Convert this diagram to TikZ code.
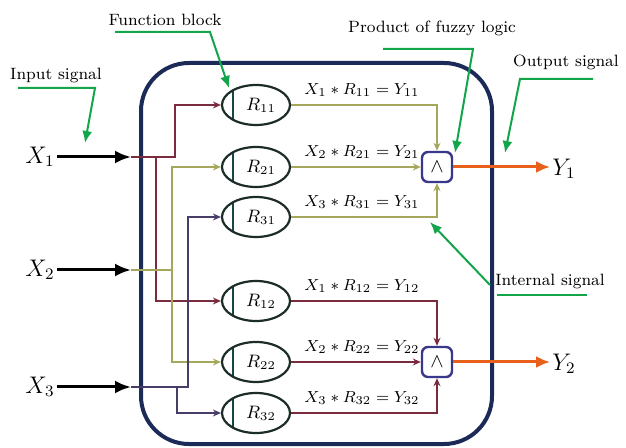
\documentclass[tikz,border=0pt]{standalone}
\usetikzlibrary{arrows.meta,shapes.geometric}

\definecolor{frameblue}{RGB}{28,42,88}
\definecolor{maroonln}{RGB}{122,44,62}
\definecolor{oliveln}{RGB}{165,168,92}
\definecolor{purpleln}{RGB}{72,60,104}
\definecolor{blockln}{RGB}{28,44,38}
\definecolor{barln}{RGB}{24,70,70}
\definecolor{gateln}{RGB}{58,56,138}
\definecolor{outorange}{RGB}{232,96,26}
\definecolor{notegreen}{RGB}{18,165,74}

\begin{document}
\begin{tikzpicture}[x=0.5pt, y=-0.5pt, >=Latex,
  rblock/.style={ellipse, draw=blockln, line width=1.1pt, minimum width=34pt, minimum height=20pt,
    inner sep=0pt, font=\fontsize{9}{11}\selectfont,
    path picture={\draw[barln, line width=0.9pt]
      ([xshift=5.5pt]path picture bounding box.south west) --
      ([xshift=5.5pt]path picture bounding box.north west);}},
  prod/.style={inner sep=0pt, font=\fontsize{8}{10}\selectfont},
  andgate/.style={draw=gateln, line width=1.2pt, rounded corners=3pt, minimum size=15pt,
    inner sep=0pt, fill=white},
  sig/.style={inner sep=1pt, font=\fontsize{12}{14}\selectfont},
  anno/.style={inner sep=0pt, font=\fontsize{8.2}{10}\selectfont},
  wire/.style={line width=0.75pt, -{Stealth[length=4pt,width=3.5pt]}},
  line/.style={line width=0.75pt},
  inarrow/.style={line width=1.5pt, -{Latex[length=8pt,width=6.5pt]}},
  outarrow/.style={outorange, line width=1.5pt, -{Latex[length=7pt,width=6pt]}},
  note/.style={notegreen, line width=1pt, -{Latex[length=6pt,width=5pt]}}]
\useasboundingbox (0,0) rectangle (626,448);

% frame
\draw[frameblue, line width=2pt, rounded corners=24pt] (141,63) rectangle (492,444);

% function blocks and products
\foreach \i/\j/\y in {1/1/105, 2/1/167, 3/1/217, 1/2/301, 2/2/362, 3/2/413} {
  \node[rblock] (r\i\j) at (256,\y) {\hspace*{5pt}$R_{\i\j}$};
  \node[prod] (p\i\j) at (362,\y-15) {$X_{\i} \ast R_{\i\j} = Y_{\i\j}$};
}

% fuzzy AND
\node[andgate] (and1) at (437,167) {$\wedge$};
\node[andgate] (and2) at (437,362) {$\wedge$};

% inputs / outputs
\node[sig] (x1) at (40,157) {$X_1$};
\node[sig] (x2) at (40,270) {$X_2$};
\node[sig] (x3) at (40,387) {$X_3$};
\node[sig] (y1) at (564,169) {$Y_1$};
\node[sig] (y2) at (564,364) {$Y_2$};

\coordinate (e1) at (131,157);
\coordinate (e2) at (131,270);
\coordinate (e3) at (131,387);
\coordinate (k1) at (156,157);
\coordinate (k2) at (175,157);
\coordinate (k3) at (172,270);
\coordinate (k4) at (177,387);
\coordinate (k5) at (188,387);

% internal wiring
\draw[wire, maroonln] (e1) -- (k2) |- (r11.west);
\draw[wire, maroonln] (k1) |- (r12.west);
\draw[wire, oliveln] (e2) -- (k3) |- (r21.west);
\draw[wire, oliveln] (k3) |- (r22.west);
\draw[wire, purpleln] (e3) -- (k5) |- (r31.west);
\draw[wire, purpleln] (k4) |- (r32.west);

\draw[inarrow] (x1.east) -- (e1);
\draw[inarrow] (x2.east) -- (e2);
\draw[inarrow] (x3.east) -- (e3);

\draw[wire, oliveln] (r11.east) -| (and1.north);
\draw[wire, oliveln] (r21.east) -- (and1.west);
\draw[wire, oliveln] (r31.east) -| (and1.south);
\draw[wire, maroonln] (r12.east) -| (and2.north);
\draw[wire, maroonln] (r22.east) -- (and2.west);
\draw[wire, maroonln] (r32.east) -| (and2.south);

\draw[outarrow] (and1.east) -- (y1.west |- and1.east);
\draw[outarrow] (and2.east) -- (y2.west |- and2.east);

% annotations
\node[anno] (ninput) at (56,75) {Input signal};
\node[anno] (nblock) at (165,20) {Function block};
\node[anno] (nprod) at (432,28) {Product of fuzzy logic};
\node[anno] (nout) at (566,62) {Output signal};
\node[anno] (nint) at (550,281) {Internal signal};

\coordinate (tinput) at (85,143);
\coordinate (tblock) at (229,88);
\coordinate (tprod) at (455,153);
\coordinate (tout) at (505,153);
\coordinate (tint) at (430,222);

\draw[note] (18,88) -- (95,88) -- (tinput);
\draw[note] (115,32) -- (210,32) -- (tblock);
\draw[note] (383,49) -- (473,49) -- (tprod);
\draw[note] (593,79) -- (520,79) -- (tout);
\draw[notegreen, line width=1pt] (497,295) -- (587,295);
\draw[note] (490,285) -- (tint);
\end{tikzpicture}
\end{document}
